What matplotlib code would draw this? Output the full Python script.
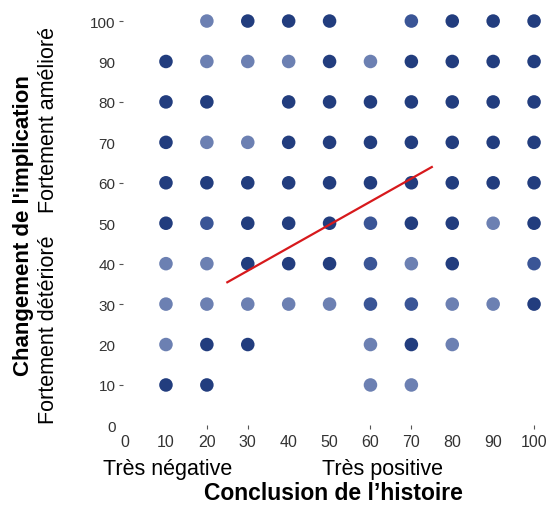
import matplotlib
matplotlib.use('Agg')
from matplotlib import pyplot as plt
import numpy as np

plt.rcParams['font.family'] = ['Liberation Sans', 'DejaVu Sans']

# points: (conclusion, changement, shade) shade 2 = dark, 1 = medium, 0 = light
xs = [20, 30, 40, 50, 70, 80, 90, 100,
      10, 20, 30, 40, 50, 60, 70, 80, 90, 100,
      10, 20, 40, 50, 60, 70, 80, 90, 100,
      10, 20, 30, 40, 50, 60, 70, 80, 90, 100,
      10, 20, 30, 40, 50, 60, 70, 80, 90, 100,
      10, 20, 30, 40, 50, 60, 70, 80, 90, 100,
      10, 20, 30, 40, 50, 60, 70, 80, 100,
      10, 20, 30, 40, 50, 60, 70, 80, 90, 100,
      10, 20, 30, 60, 70, 80,
      10, 20, 60, 70]
ys = [100] * 8 + [90] * 10 + [80] * 9 + [70] * 10 + [60] * 10 + [50] * 10 + \
     [40] * 9 + [30] * 10 + [20] * 6 + [10] * 4
shade = [0, 2, 2, 2, 1, 2, 2, 2,
         2, 0, 0, 0, 2, 0, 2, 2, 2, 2,
         2, 2, 2, 2, 2, 2, 2, 2, 2,
         2, 0, 0, 2, 2, 2, 2, 2, 2, 2,
         2, 2, 2, 2, 2, 2, 2, 2, 2, 2,
         2, 1, 2, 2, 2, 1, 2, 2, 0, 2,
         0, 0, 2, 2, 2, 1, 0, 2, 1,
         0, 0, 0, 0, 0, 1, 1, 0, 0, 2,
         0, 2, 2, 0, 2, 0,
         2, 2, 0, 0]

# regression line
line_x = [25, 75]
line_y = [35.4, 63.9]

xticks = [0, 10, 20, 30, 40, 50, 60, 70, 80, 90, 100]
yticks = [0, 10, 20, 30, 40, 50, 60, 70, 80, 90, 100]

palette = {0: '#6c80b2', 1: '#3a5596', 2: '#223d7e'}
colors = [palette[s] for s in shade]

fig = plt.figure(figsize=(5.47, 5.06), dpi=100)
ax = fig.add_axes([0.2249, 0.1573, 0.7664, 0.8231])
ax.scatter(xs, ys, s=95, c=colors, linewidths=0, zorder=2)
ax.plot(line_x, line_y, color='#d7191c', lw=1.6, zorder=3)

ax.set_xlim(-0.5, 102)
ax.set_ylim(0, 103)
ax.set_xticks(xticks)
ax.set_yticks(yticks)
ax.tick_params(labelcolor='#333333', color='#555555', length=3, width=0.8)
ax.tick_params(axis='x', labelsize=11.5, pad=3)
ax.tick_params(axis='y', labelsize=11, pad=2.5)
for s in ax.spines.values():
    s.set_visible(False)

# only some ticks show marks in the original
for t, v in zip(ax.xaxis.get_major_ticks(), xticks):
    if v not in (20, 30, 60, 70, 100):
        t.tick1line.set_visible(False)
for t, v in zip(ax.yaxis.get_major_ticks(), yticks):
    if v not in (10, 30, 40, 60, 80, 100):
        t.tick1line.set_visible(False)

fig.text(168 / 547, 1 - 470 / 506, 'Très négative', fontsize=15.5, ha='center', va='center')
fig.text(383 / 547, 1 - 470 / 506, 'Très positive', fontsize=15.5, ha='center', va='center')
fig.text(333 / 547, 1 - 494 / 506, 'Conclusion de l’histoire', fontsize=16.5,
         fontweight='bold', ha='center', va='center')

fig.text(24 / 547, 1 - 226 / 506, "Changement de l'implication", fontsize=16,
         fontweight='bold', rotation=90, ha='center', va='center')
fig.text(49 / 547, 1 - 330 / 506, 'Fortement détérioré', fontsize=15.5,
         rotation=90, ha='center', va='center')
fig.text(49 / 547, 1 - 120 / 506, 'Fortement amélioré', fontsize=15.5,
         rotation=90, ha='center', va='center')

plt.savefig('out.png', dpi=100)
